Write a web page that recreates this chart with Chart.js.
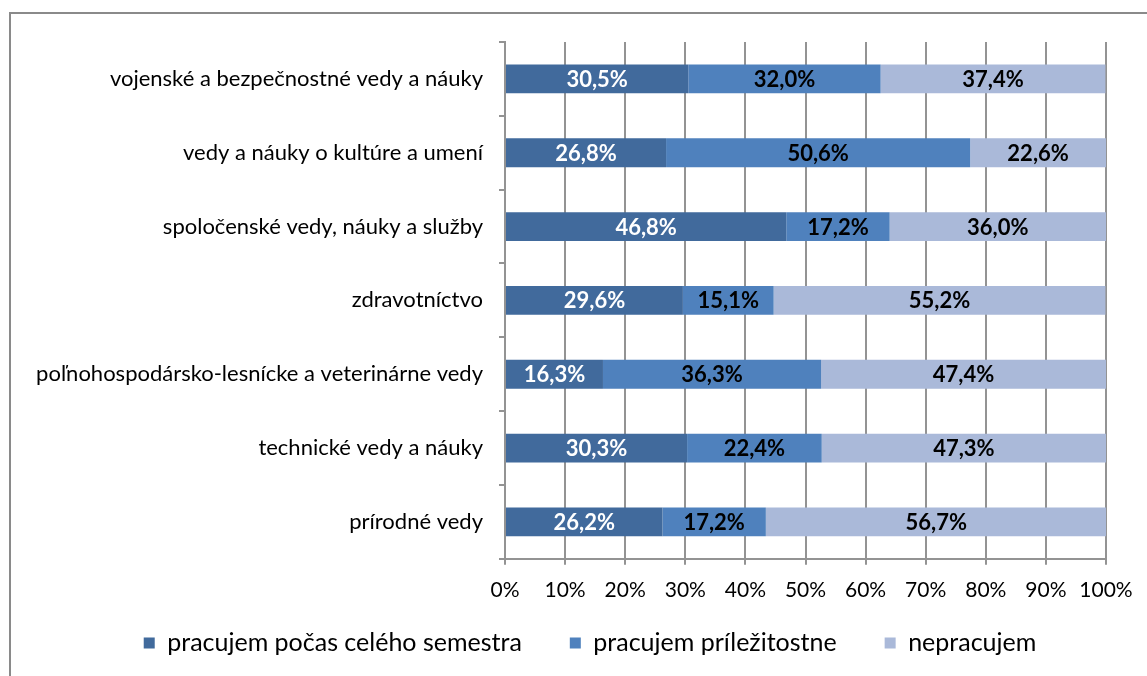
<!DOCTYPE html>
<html><head><meta charset="utf-8">
<script src="https://cdn.jsdelivr.net/npm/chart.js@4.4.1/dist/chart.umd.min.js"></script>
<style>
html,body{margin:0;padding:0;background:#fff;overflow:hidden}
#wrap{position:relative;width:1147px;height:676px;overflow:hidden}
#frame{position:absolute;left:9px;top:12px;width:1300px;height:800px;border-left:2px solid #8a8a8a;border-top:2px solid #8a8a8a}
canvas{position:absolute;left:0;top:0}
</style></head><body>
<div id="wrap"><div id="frame"></div><canvas id="c" width="1147" height="676"></canvas></div>
<script>
const categories = [
  'vojenské a bezpečnostné vedy a náuky',
  'vedy a náuky o kultúre a umení',
  'spoločenské vedy, náuky a služby',
  'zdravotníctvo',
  'poľnohospodársko-lesnícke a veterinárne vedy',
  'technické vedy a náuky',
  'prírodné vedy'
];
const fullSemester = [30.5, 26.8, 46.8, 29.6, 16.3, 30.3, 26.2];
const occasional   = [32.0, 50.6, 17.2, 15.1, 36.3, 22.4, 17.2];
const notWorking   = [37.4, 22.6, 36.0, 55.2, 47.4, 47.3, 56.7];
const seriesNames = ['pracujem počas celého semestra', 'pracujem príležitostne', 'nepracujem'];
const seriesColors = ['#416a9c', '#4f81bd', '#aab9d9'];
const labelColors = ['#ffffff', '#000000', '#000000'];
const FONT = 'Lato';

const valueLabels = {
  id: 'valueLabels',
  afterDatasetsDraw(chart) {
    const ctx = chart.ctx;
    ctx.save();
    ctx.font = 'bold 22px ' + FONT;
    ctx.textAlign = 'center';
    ctx.textBaseline = 'middle';
    chart.data.datasets.forEach((ds, di) => {
      const meta = chart.getDatasetMeta(di);
      ctx.fillStyle = labelColors[di];
      meta.data.forEach((el, i) => {
        const v = ds.data[i];
        const x = (el.x + el.base) / 2;
        ctx.fillText(v.toFixed(1).replace('.', ',') + '%', x, el.y + 1);
      });
    });
    ctx.restore();
  }
};

// The legend's item padding is used both horizontally and vertically; keep the wide
// horizontal gaps but reserve only a small strip in the layout and place the row below the axis.
const legendFit = {
  id: 'legendFit',
  beforeLayout(chart) {
    const l = chart.legend;
    if (l && !l._fitWrapped) {
      const orig = l.fit.bind(l);
      l.fit = function () { orig(); this.height = 44; };
      l._fitWrapped = true;
    }
  },
  afterLayout(chart) {
    const l = chart.legend;
    if (l) {
      const pad = l.options.labels.padding;
      const size = l.options.labels.font.size;
      l.top = 643 - pad - size / 2;
      l.bottom = chart.height;
      l.height = l.bottom - l.top;
      l.left += 74;
      l.width = l.right - l.left;
    }
  }
};

new Chart(document.getElementById('c'), {
  type: 'bar',
  data: {
    labels: categories,
    datasets: [
      { label: seriesNames[0], data: fullSemester, backgroundColor: seriesColors[0] },
      { label: seriesNames[1], data: occasional, backgroundColor: seriesColors[1] },
      { label: seriesNames[2], data: notWorking, backgroundColor: seriesColors[2] }
    ]
  },
  options: {
    indexAxis: 'y',
    responsive: false,
    animation: false,
    devicePixelRatio: 1,
    layout: { padding: { left: 0, right: 41, top: 42, bottom: 16 } },
    datasets: { bar: { categoryPercentage: 1, barPercentage: 0.39, borderWidth: 0 } },
    scales: {
      x: {
        stacked: true, min: 0, max: 100,
        ticks: { stepSize: 10, callback: v => v + '%', color: '#000', font: { family: FONT, size: 21 }, padding: 13, maxRotation: 0 },
        grid: { color: '#939393', lineWidth: 2, tickLength: 6, drawTicks: true },
        border: { color: '#939393', width: 2 }
      },
      y: {
        stacked: true,
        ticks: { color: '#000', font: { family: FONT, size: 22 }, padding: 16 },
        grid: { drawOnChartArea: false, drawTicks: true, tickLength: 6, color: '#939393', lineWidth: 2, offset: true },
        border: { color: '#939393', width: 2 },
        afterFit: s => { s.width = 505; }
      }
    },
    plugins: {
      legend: {
        position: 'bottom',
        labels: { boxWidth: 11, boxHeight: 11, padding: 48, color: '#000', font: { family: FONT, size: 25 } }
      },
      tooltip: { enabled: false },
      title: { display: false }
    }
  },
  plugins: [valueLabels, legendFit]
});
</script>
</body></html>
